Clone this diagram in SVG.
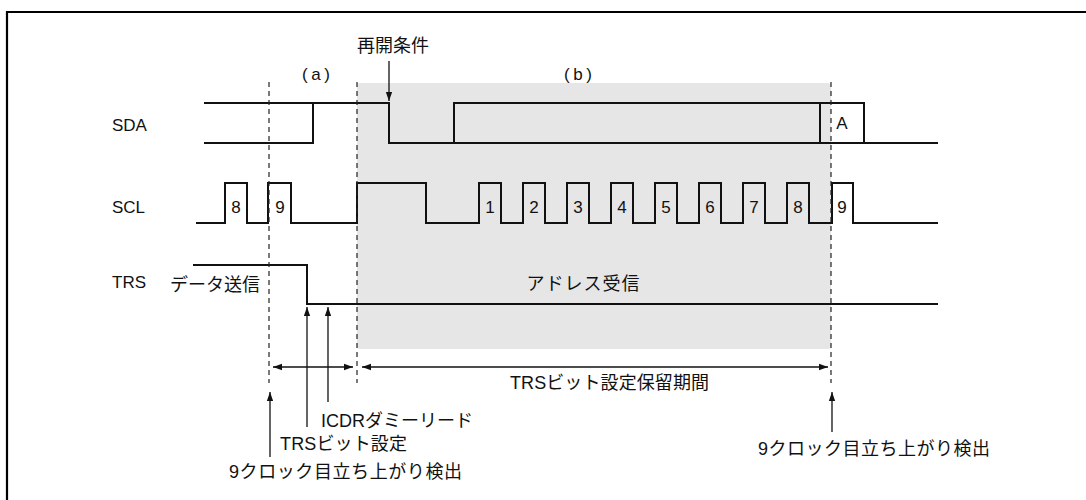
<svg xmlns="http://www.w3.org/2000/svg" width="1086" height="500" viewBox="0 0 1086 500">
<style>
text{font-family:"Liberation Sans","Noto Sans CJK JP",sans-serif;font-size:17px;fill:#111}
.jp{font-size:18px}
.sig{fill:none;stroke:#111;stroke-width:2;stroke-linejoin:miter}
.dash{fill:none;stroke:#222;stroke-width:1.2;stroke-dasharray:5 4}
.ar{fill:none;stroke:#111;stroke-width:1.3}
.mid{text-anchor:middle}
</style>
<defs>
<marker id="ah" viewBox="0 0 10 10" refX="10" refY="5" markerWidth="9" markerHeight="9" markerUnits="userSpaceOnUse" orient="auto-start-reverse">
<path d="M0,1.5 L10,5 L0,8.5 z" fill="#111"/>
</marker>
</defs>
<rect width="1086" height="500" fill="#fff"/>
<path d="M7,501 V12 H1087" fill="none" stroke="#000" stroke-width="2.2"/>
<rect id="period-shade" x="357" y="83" width="474" height="266" rx="3" fill="#e6e6e6"/>

<g id="labels">
<text x="112" y="131">SDA</text>
<text x="112" y="213">SCL</text>
<text x="112" y="288">TRS</text>
<text x="393" y="52" class="mid jp">再開条件</text>
<text x="316" y="80" class="mid" textLength="28" lengthAdjust="spacing">(a)</text>
<text x="578" y="80" class="mid" textLength="28" lengthAdjust="spacing">(b)</text>
</g>

<g id="sda">
<path class="sig" d="M204,103 H389 V143 H938"/>
<path class="sig" d="M204,143 H313 V103"/>
<path class="sig" d="M454,143 V103 H864 V143"/>
<path class="sig" d="M820,103 V143"/>
<text x="842" y="129" class="mid">A</text>
</g>

<g id="scl">
<path class="sig" d="M196,223 H225 V183 H247 V223 H268 V183 H291 V223 H357 V183 H426 V223 H479 V183 H501 V223 H523 V183 H545 V223 H567 V183 H589 V223 H611 V183 H633 V223 H655 V183 H677 V223 H699 V183 H721 V223 H743 V183 H765 V223 H787 V183 H809 V223 H832 V183 H853 V223 H938"/>
<text x="236" y="213" class="mid">8</text>
<text x="280" y="213" class="mid">9</text>
<text x="490" y="213" class="mid">1</text>
<text x="534" y="213" class="mid">2</text>
<text x="578" y="213" class="mid">3</text>
<text x="622" y="213" class="mid">4</text>
<text x="666" y="213" class="mid">5</text>
<text x="710" y="213" class="mid">6</text>
<text x="754" y="213" class="mid">7</text>
<text x="798" y="213" class="mid">8</text>
<text x="842" y="213" class="mid">9</text>
</g>

<g id="trs">
<path class="sig" d="M193,265 H307 V304 H938"/>
<text x="170" y="291" class="jp" textLength="90" lengthAdjust="spacing">データ送信</text>
<text x="583" y="290" class="mid jp" textLength="113" lengthAdjust="spacing">アドレス受信</text>
</g>

<g id="markers">
<path class="dash" d="M269,82 V383"/>
<path class="dash" d="M357,82 V383"/>
<path class="dash" d="M831,82 V383"/>
</g>

<g id="connectors">
<path class="ar" d="M389,61 V101" marker-end="url(#ah)"/>
<path class="ar" d="M273,367 H353" marker-start="url(#ah)" marker-end="url(#ah)"/>
<path class="ar" d="M362,367 H828" marker-start="url(#ah)" marker-end="url(#ah)"/>
<path class="ar" d="M307,427 V307" marker-end="url(#ah)"/>
<path class="ar" d="M328,402 V307" marker-end="url(#ah)"/>
<path class="ar" d="M270,457 V392" marker-end="url(#ah)"/>
<path class="ar" d="M832,432 V392" marker-end="url(#ah)"/>
</g>

<g id="annotations">
<text x="510" y="389" class="jp" textLength="199" lengthAdjust="spacing">TRSビット設定保留期間</text>
<text x="321" y="427" class="jp" textLength="152" lengthAdjust="spacing">ICDRダミーリード</text>
<text x="280" y="450" class="jp" textLength="127" lengthAdjust="spacing">TRSビット設定</text>
<text x="229" y="478" class="jp" textLength="233" lengthAdjust="spacing">9クロック目立ち上がり検出</text>
<text x="758" y="455" class="jp" textLength="232" lengthAdjust="spacing">9クロック目立ち上がり検出</text>
</g>
</svg>
